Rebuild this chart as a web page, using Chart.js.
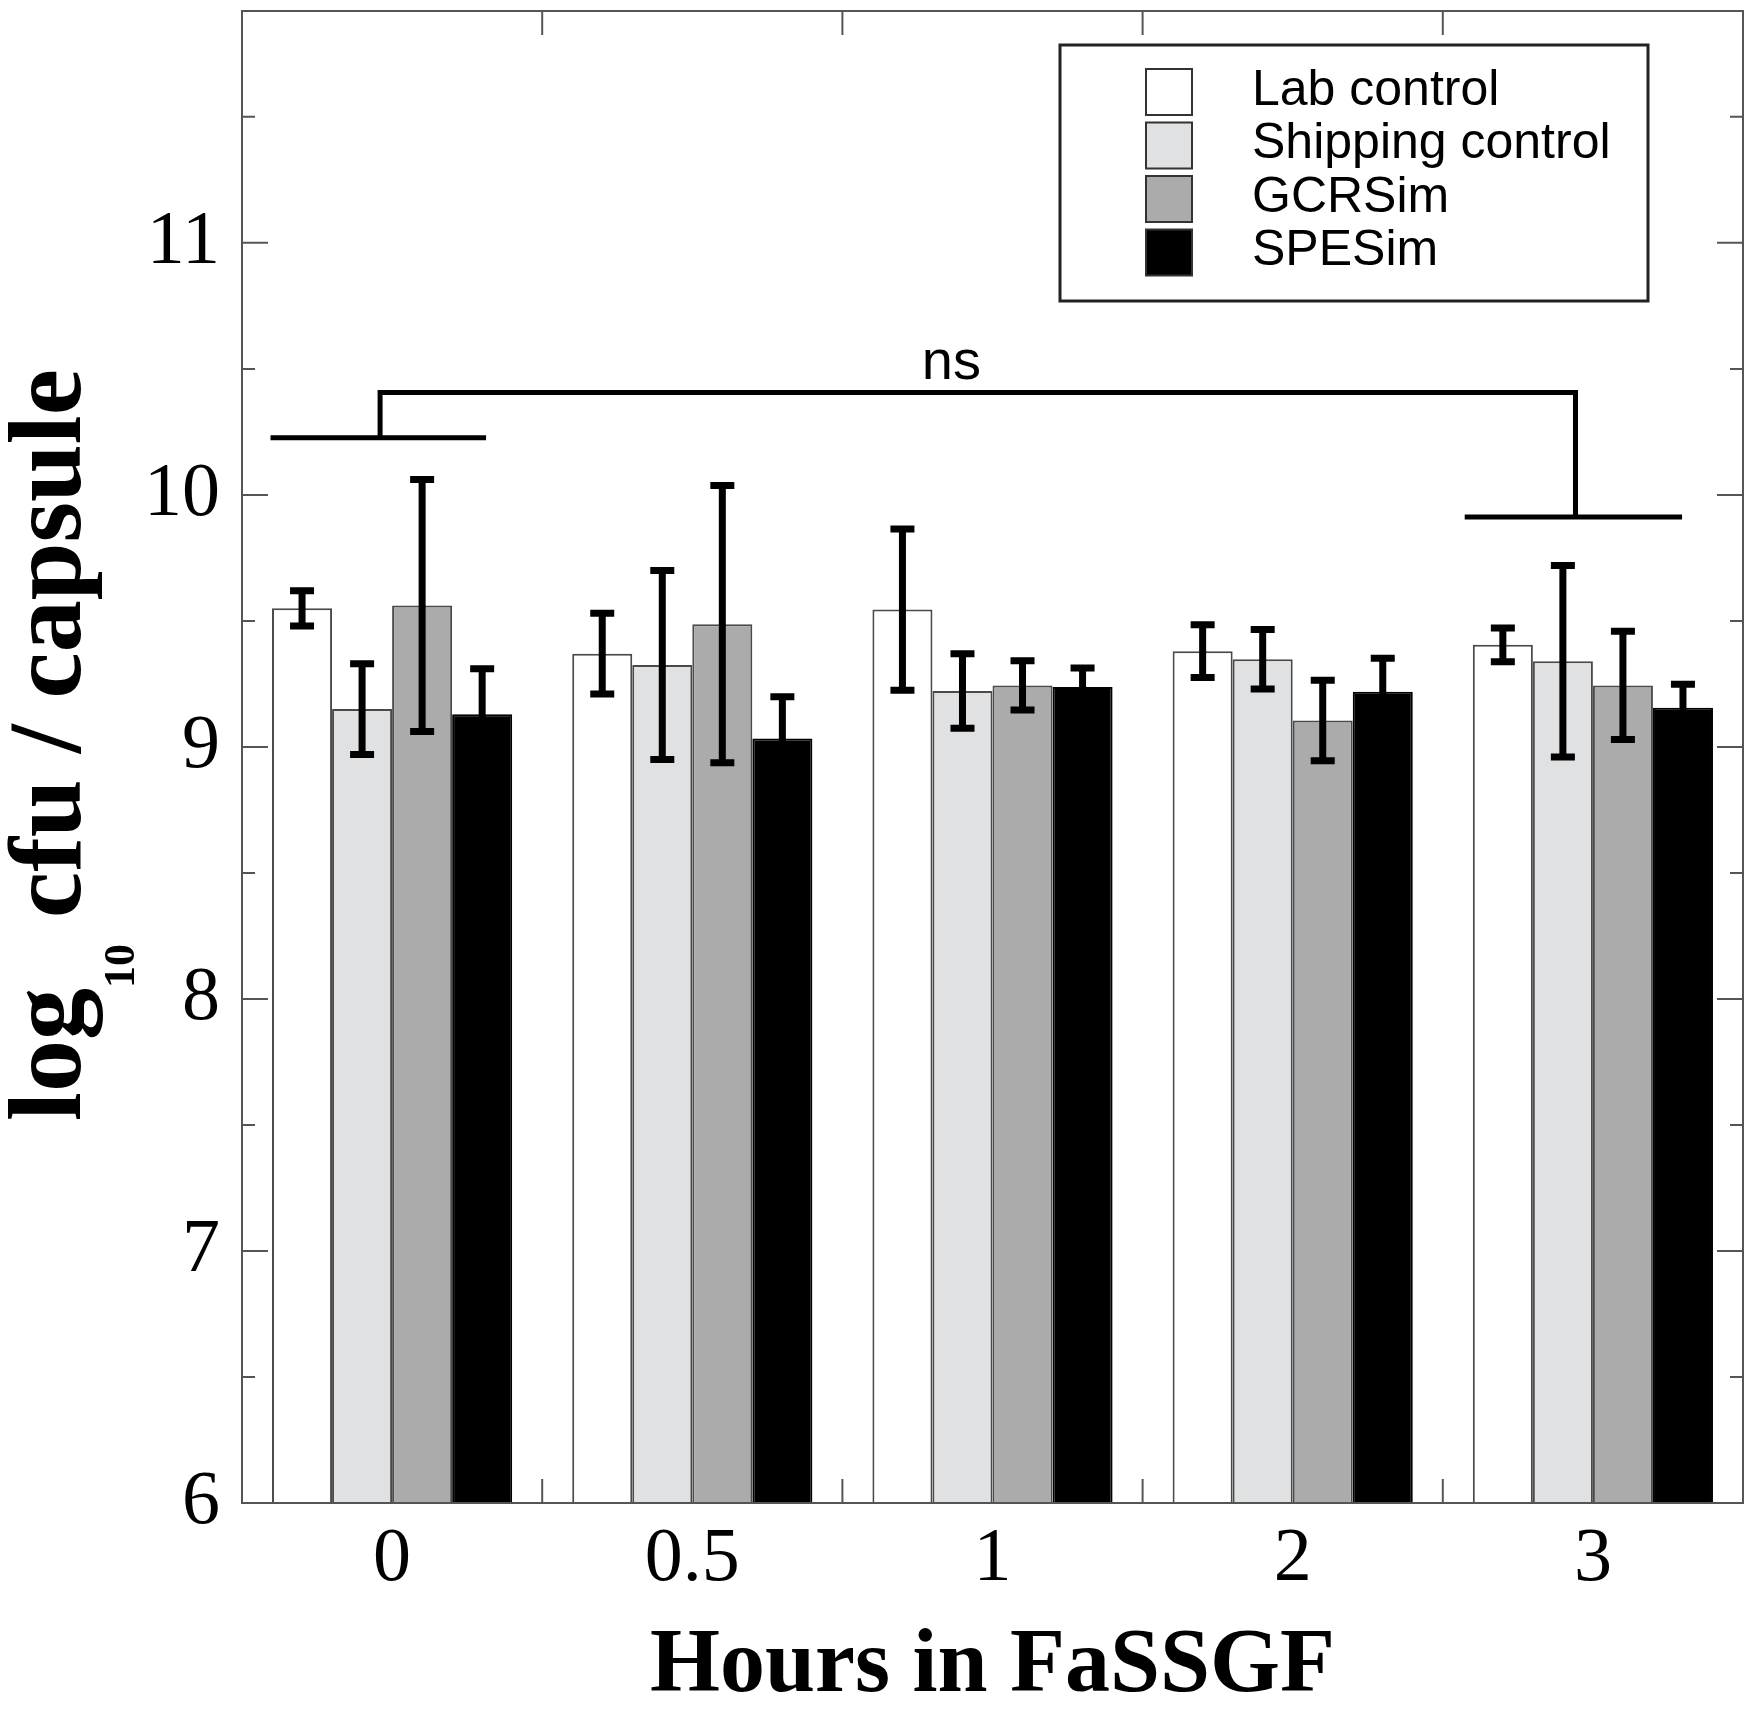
<!DOCTYPE html>
<html>
<head>
<meta charset="utf-8">
<script src="https://cdn.jsdelivr.net/npm/chart.js@4.4.1/dist/chart.umd.min.js"></script>
<style>
  html, body { margin: 0; padding: 0; background: #fff; }
  #wrap { width: 1750px; height: 1714px; position: relative; }
</style>
</head>
<body>
<div id="wrap"><canvas id="cfuChart"></canvas></div>
<script>
// hours in FaSSGF (categories)
const hours = ['0', '0.5', '1', '2', '3'];
const seriesNames = ['Lab control', 'Shipping control', 'GCRSim', 'SPESim'];

// log10 cfu / capsule
const labControl = [9.55, 9.37, 9.545, 9.38, 9.405];
const labControlErr = [0.07, 0.16, 0.32, 0.105, 0.067];
const shippingControl = [9.15, 9.325, 9.222, 9.348, 9.34];
const shippingControlErr = [0.18, 0.375, 0.148, 0.118, 0.38];
const gcrSim = [9.561, 9.487, 9.244, 9.105, 9.244];
const gcrSimErr = [0.5, 0.55, 0.098, 0.16, 0.215];
const speSim = [9.13, 9.033, 9.238, 9.219, 9.155];
const speSimErr = [0.18, 0.166, 0.075, 0.133, 0.094];

// "ns" bracket, in category index / log units
const bracketLeftBar = [-0.405, 0.313];
const bracketLeftY = 10.227;
const bracketStemX = [-0.04, 3.942];
const bracketTopY = 10.406;
const bracketRightBar = [3.573, 4.297];
const bracketRightY = 9.912;
const nsLabel = { text: 'ns', x: 1.863, y: 10.46 };

const fills = ['#ffffff', '#dfe1e2', '#ababab', '#000000'];
const edges = ['#4a4a4a', '#4a4a4a', '#4a4a4a', '#000000'];
const allValues = [labControl, shippingControl, gcrSim, speSim];
const allErrors = [labControlErr, shippingControlErr, gcrSimErr, speSimErr];

const serif = '"Liberation Serif", "Times New Roman", serif';
const sans = '"Liberation Sans", Arial, sans-serif';

const decor = {
  id: 'decor',
  afterDatasetsDraw(chart) {
    const ctx = chart.ctx;
    const y = chart.scales.y;
    ctx.save();
    ctx.strokeStyle = '#000';
    ctx.lineWidth = 7;
    chart.data.datasets.forEach((ds, di) => {
      const meta = chart.getDatasetMeta(di);
      meta.data.forEach((bar, i) => {
        const v = ds.data[i], e = allErrors[di][i];
        const top = y.getPixelForValue(v + e);
        const bot = y.getPixelForValue(v - e);
        ctx.beginPath();
        ctx.moveTo(bar.x, top); ctx.lineTo(bar.x, bot);
        ctx.moveTo(bar.x - 12, top); ctx.lineTo(bar.x + 12, top);
        ctx.moveTo(bar.x - 12, bot); ctx.lineTo(bar.x + 12, bot);
        ctx.stroke();
      });
    });
    ctx.restore();
  },
  afterDraw(chart) {
    const ctx = chart.ctx;
    const area = chart.chartArea;
    const x = chart.scales.x, y = chart.scales.y;
    ctx.save();

    // frame
    ctx.strokeStyle = '#555';
    ctx.lineWidth = 2;
    ctx.strokeRect(area.left, area.top, area.right - area.left, area.bottom - area.top);

    // inward ticks, left and right
    ctx.beginPath();
    for (let v = Math.ceil(y.min * 2) / 2; v <= y.max + 1e-9; v += 0.5) {
      const py = y.getPixelForValue(v);
      const len = Number.isInteger(v) ? 26 : 13;
      ctx.moveTo(area.left, py); ctx.lineTo(area.left + len, py);
      ctx.moveTo(area.right, py); ctx.lineTo(area.right - len, py);
    }
    // ticks between categories, top and bottom
    for (let i = 0; i < hours.length - 1; i++) {
      const px = x.getPixelForValue(i + 0.5);
      ctx.moveTo(px, area.bottom); ctx.lineTo(px, area.bottom - 24);
      ctx.moveTo(px, area.top); ctx.lineTo(px, area.top + 24);
    }
    ctx.stroke();

    // significance bracket
    ctx.strokeStyle = '#000';
    ctx.lineWidth = 5;
    ctx.beginPath();
    ctx.moveTo(x.getPixelForValue(bracketLeftBar[0]), y.getPixelForValue(bracketLeftY));
    ctx.lineTo(x.getPixelForValue(bracketLeftBar[1]), y.getPixelForValue(bracketLeftY));
    ctx.moveTo(x.getPixelForValue(bracketStemX[0]), y.getPixelForValue(bracketLeftY));
    ctx.lineTo(x.getPixelForValue(bracketStemX[0]), y.getPixelForValue(bracketTopY));
    ctx.lineTo(x.getPixelForValue(bracketStemX[1]), y.getPixelForValue(bracketTopY));
    ctx.lineTo(x.getPixelForValue(bracketStemX[1]), y.getPixelForValue(bracketRightY));
    ctx.moveTo(x.getPixelForValue(bracketRightBar[0]), y.getPixelForValue(bracketRightY));
    ctx.lineTo(x.getPixelForValue(bracketRightBar[1]), y.getPixelForValue(bracketRightY));
    ctx.stroke();
    ctx.fillStyle = '#000';
    ctx.font = '56px ' + sans;
    ctx.textAlign = 'center';
    ctx.textBaseline = 'alphabetic';
    ctx.fillText(nsLabel.text, x.getPixelForValue(nsLabel.x), y.getPixelForValue(nsLabel.y));

    // legend box
    const box = { left: area.right - 95 - 588, top: area.top + 34, w: 588, h: 256 };
    ctx.strokeStyle = '#222';
    ctx.lineWidth = 3;
    ctx.strokeRect(box.left, box.top, box.w, box.h);
    ctx.font = '50px ' + sans;
    ctx.textAlign = 'left';
    ctx.textBaseline = 'middle';
    seriesNames.forEach((name, i) => {
      const sy = box.top + 24 + i * 53.5;
      ctx.fillStyle = fills[i];
      ctx.fillRect(box.left + 86, sy, 46, 46);
      ctx.strokeStyle = '#333';
      ctx.lineWidth = 2;
      ctx.strokeRect(box.left + 86, sy, 46, 46);
      ctx.fillStyle = '#000';
      ctx.fillText(name, box.left + 192, sy + 22);
    });

    // y title with subscript
    const mainFont = 'bold 104px ' + serif;
    const subFont = 'bold 44px ' + serif;
    ctx.font = mainFont;
    const wLog = ctx.measureText('log').width;
    const wRest = ctx.measureText(' cfu / capsule').width;
    ctx.font = subFont;
    const wSub = ctx.measureText('10').width;
    const total = wLog + wSub + wRest;
    ctx.translate(80, (area.top + area.bottom) / 2 - 12);
    ctx.rotate(-Math.PI / 2);
    ctx.textBaseline = 'alphabetic';
    ctx.textAlign = 'left';
    let sx = -total / 2;
    ctx.font = mainFont;
    ctx.fillText('log', sx, 0);
    sx += wLog;
    ctx.font = subFont;
    ctx.fillText('10', sx, 54);
    sx += wSub;
    ctx.font = mainFont;
    ctx.fillText(' cfu / capsule', sx, 0);
    ctx.restore();
  }
};

const ctx = document.getElementById('cfuChart').getContext('2d');
new Chart(ctx, {
  type: 'bar',
  data: {
    labels: hours,
    datasets: seriesNames.map((name, i) => ({
      label: name,
      data: allValues[i],
      backgroundColor: fills[i],
      borderColor: edges[i],
      borderWidth: 2,
      barPercentage: 1.0,
      categoryPercentage: 0.8
    }))
  },
  options: {
    responsive: true,
    maintainAspectRatio: false,
    animation: false,
    layout: { padding: { top: 11, right: 7, left: 0, bottom: 0 } },
    plugins: {
      legend: { display: false },
      tooltip: { enabled: false }
    },
    scales: {
      x: {
        grid: { display: false, drawTicks: false },
        border: { display: false },
        ticks: { padding: 11, color: '#000', font: { family: serif, size: 76 } },
        title: {
          display: true,
          text: 'Hours in FaSSGF',
          color: '#000',
          font: { family: serif, size: 90, weight: 'bold', lineHeight: 1 },
          padding: { top: 0, bottom: 1 }
        },
        afterFit: s => {
          s.height = 211;
          s.paddingLeft = 0;
          s.paddingRight = 0;
        }
      },
      y: {
        min: 6,
        max: 11.92,
        grid: { display: false, drawTicks: false },
        border: { display: false },
        ticks: {
          stepSize: 0.5,
          maxTicksLimit: 20,
          padding: 22,
          color: '#000',
          font: { family: serif, size: 76 },
          callback: v => Number.isInteger(v) ? v : ''
        },
        afterFit: s => {
          s.width = 242;
          s.paddingTop = 0;
          s.paddingBottom = 0;
        }
      }
    }
  },
  plugins: [decor]
});
</script>
</body>
</html>
